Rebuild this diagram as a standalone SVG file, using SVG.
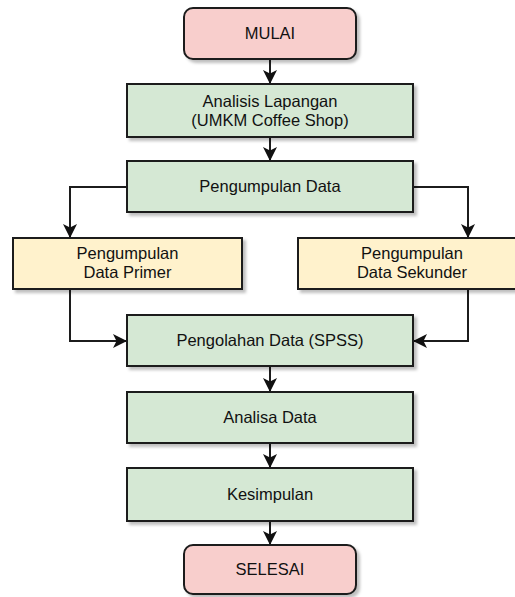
<svg xmlns="http://www.w3.org/2000/svg" width="515" height="597" viewBox="0 0 515 597">
  <style>
    .box { stroke: #1c1c1c; stroke-width: 2; filter: url(#sh); }
    .term { fill: #f8cecc; }
    .proc { fill: #d5e8d4; }
    .data { fill: #fff2cc; }
    .lbl { font-family: "Liberation Sans", Arial, Helvetica, sans-serif; font-size: 16.5px; fill: #111; text-anchor: middle; }
    .conn { fill: none; stroke: #1c1c1c; stroke-width: 2; marker-end: url(#arr); }
  </style>
  <defs>
    <filter id="sh" x="-10%" y="-20%" width="130%" height="160%">
      <feDropShadow dx="3" dy="3" stdDeviation="1.5" flood-color="#000" flood-opacity="0.25"/>
    </filter>
    <marker id="arr" markerUnits="userSpaceOnUse" markerWidth="14" markerHeight="14" viewBox="0 0 12 12" refX="12" refY="6" orient="auto">
      <path d="M0,0 L12,6 L0,12 L3,6 z" fill="#111"/>
    </marker>
  </defs>
  <rect width="515" height="597" fill="#fff"/>

  <g id="connectors">
    <path class="conn" d="M270,59 L270,84"/>
    <path class="conn" d="M270,137 L270,161"/>
    <path class="conn" d="M127,187 L70,187 L70,238"/>
    <path class="conn" d="M413,187 L468,187 L468,238"/>
    <path class="conn" d="M70,289 L70,341 L127,341"/>
    <path class="conn" d="M468,289 L468,341 L413,341"/>
    <path class="conn" d="M270,366 L270,392"/>
    <path class="conn" d="M270,443 L270,468"/>
    <path class="conn" d="M270,521 L270,545"/>
  </g>

  <g id="mulai">
    <rect class="box term" x="184" y="8" width="172" height="51" rx="9"/>
    <text class="lbl" x="270" y="39">MULAI</text>
  </g>
  <g id="analisis-lapangan">
    <rect class="box proc" x="127" y="84" width="286" height="53"/>
    <text class="lbl" x="270" y="107">Analisis Lapangan</text>
    <text class="lbl" x="270" y="126">(UMKM Coffee Shop)</text>
  </g>
  <g id="pengumpulan-data">
    <rect class="box proc" x="127" y="161" width="286" height="51"/>
    <text class="lbl" x="270" y="192">Pengumpulan Data</text>
  </g>
  <g id="data-primer">
    <rect class="box data" x="13" y="238" width="229" height="51"/>
    <text class="lbl" x="127.5" y="259">Pengumpulan</text>
    <text class="lbl" x="127.5" y="278">Data Primer</text>
  </g>
  <g id="data-sekunder">
    <rect class="box data" x="298" y="238" width="229" height="51"/>
    <text class="lbl" x="412" y="259">Pengumpulan</text>
    <text class="lbl" x="412" y="278">Data Sekunder</text>
  </g>
  <g id="pengolahan-data">
    <rect class="box proc" x="127" y="315" width="286" height="51"/>
    <text class="lbl" x="270" y="346">Pengolahan Data (SPSS)</text>
  </g>
  <g id="analisa-data">
    <rect class="box proc" x="127" y="392" width="286" height="51"/>
    <text class="lbl" x="270" y="423">Analisa Data</text>
  </g>
  <g id="kesimpulan">
    <rect class="box proc" x="127" y="468" width="286" height="53"/>
    <text class="lbl" x="270" y="500">Kesimpulan</text>
  </g>
  <g id="selesai">
    <rect class="box term" x="184" y="545" width="172" height="49" rx="9"/>
    <text class="lbl" x="270" y="575">SELESAI</text>
  </g>
</svg>
